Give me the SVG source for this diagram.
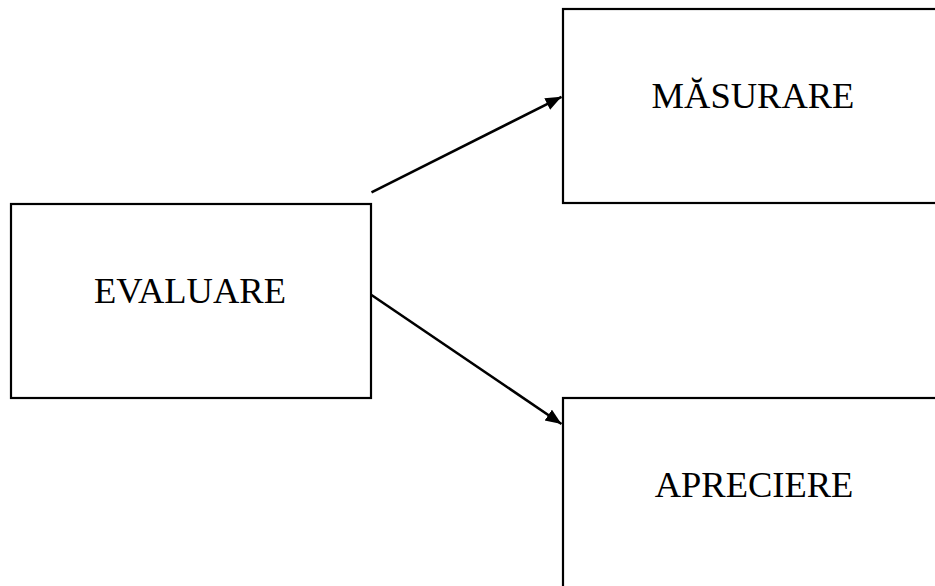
<svg xmlns="http://www.w3.org/2000/svg" width="935" height="586" viewBox="0 0 935 586">
  <style>
    .box { fill: #ffffff; stroke: #000000; stroke-width: 2.2; }
    .lbl { font-family: "Liberation Serif", "Times New Roman", serif; font-size: 36.5px; fill: #000000; text-anchor: middle; }
    .conn { stroke: #000000; stroke-width: 2.6; fill: none; marker-end: url(#arrow); }
  </style>
  <defs>
    <marker id="arrow" markerUnits="userSpaceOnUse" markerWidth="18" markerHeight="14" refX="16" refY="6.5" orient="auto">
      <path d="M0,0 L16,6.5 L0,13 Z" fill="#000000"/>
    </marker>
  </defs>
  <rect width="935" height="586" fill="#ffffff"/>
  <g id="evaluare">
    <rect class="box" x="11" y="204" width="360" height="194"/>
    <text class="lbl" x="190" y="303">EVALUARE</text>
  </g>
  <g id="masurare">
    <rect class="box" x="563" y="9" width="380" height="194"/>
    <text class="lbl" x="753" y="108">MĂSURARE</text>
  </g>
  <g id="apreciere">
    <rect class="box" x="563" y="398" width="380" height="200"/>
    <text class="lbl" x="754" y="497">APRECIERE</text>
  </g>
  <g id="connectors">
    <line class="conn" x1="371.5" y1="192.3" x2="561.5" y2="96.8"/>
    <line class="conn" x1="371.5" y1="295" x2="561.5" y2="424"/>
  </g>
</svg>
